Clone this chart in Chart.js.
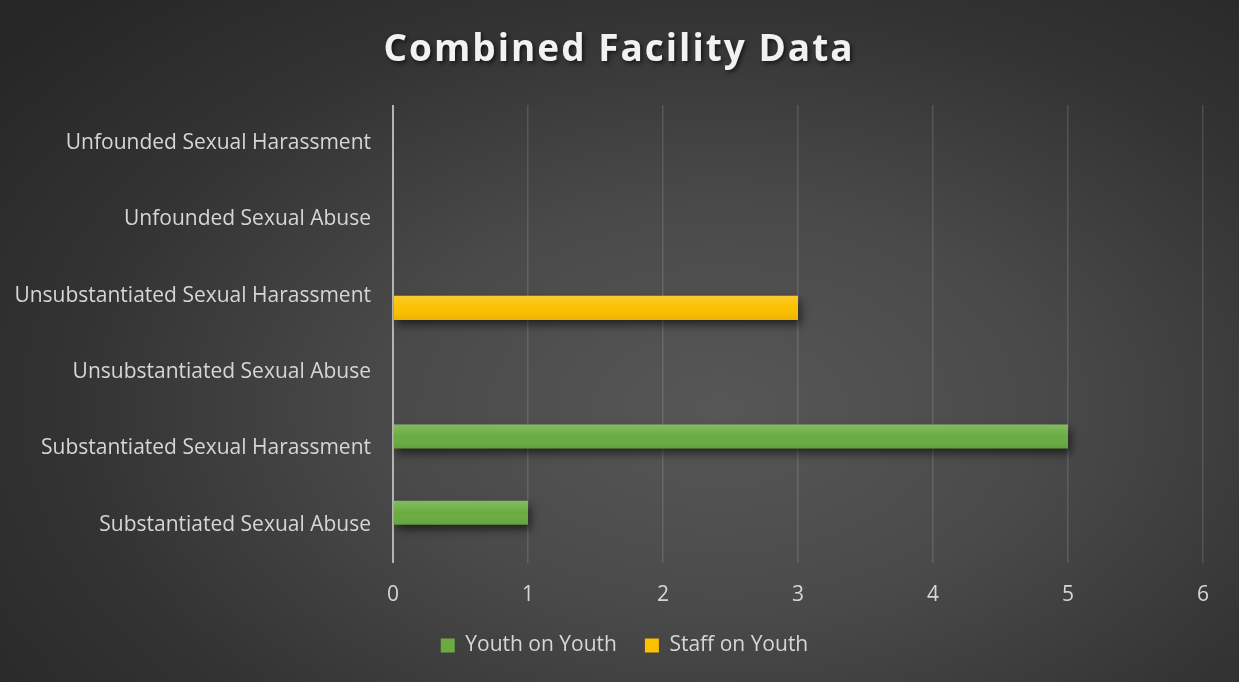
<!DOCTYPE html>
<html>
<head>
<meta charset="utf-8">
<script src="https://cdn.jsdelivr.net/npm/chart.js@4"></script>
<style>
  html, body { margin: 0; padding: 0; }
  body {
    width: 1239px;
    height: 682px;
    background: radial-gradient(ellipse 75% 85% at 58% 60%, #575757 0%, #4a4a4a 35%, #333 70%, #262626 100%);
    overflow: hidden;
  }
  #wrap { position: relative; width: 1239px; height: 682px; }
</style>
</head>
<body>
<div id="wrap"><canvas id="facilityChart" width="1239" height="682"></canvas></div>
<script>
// categories, listed top to bottom as in the picture
const categories = [
  "Unfounded Sexual Harassment",
  "Unfounded Sexual Abuse",
  "Unsubstantiated Sexual Harassment",
  "Unsubstantiated Sexual Abuse",
  "Substantiated Sexual Harassment",
  "Substantiated Sexual Abuse"
];
const youthOnYouth = [0, 0, 0, 0, 5, 1];
const staffOnYouth = [0, 0, 3, 0, 0, 0];
const xTicks = [0, 1, 2, 3, 4, 5, 6];

const titleText = "Combined Facility Data";
const labelColor = "#d6d6d6";
const FONT = '"Open Sans", "DejaVu Sans", sans-serif';

// title drawn by hand so it can get the soft shadow and letter spacing
const titlePlugin = {
  id: "bigTitle",
  afterDraw(chart) {
    const ctx = chart.ctx;
    ctx.save();
    ctx.font = "bold 37px " + FONT;
    if ("letterSpacing" in ctx) ctx.letterSpacing = "2px";
    ctx.textAlign = "center";
    ctx.textBaseline = "middle";
    ctx.shadowColor = "rgba(0,0,0,0.6)";
    ctx.shadowBlur = 4;
    ctx.shadowOffsetX = 2;
    ctx.shadowOffsetY = 2;
    ctx.fillStyle = "#f2f2f2";
    ctx.fillText(titleText, 619, 50);
    ctx.restore();
  }
};

// legend sits a bit right of the plot's centre in the original
const legendShift = {
  id: "legendShift",
  afterLayout(chart) {
    if (!chart.legend) return;
    chart.legend.left += 23;
    chart.legend.right += 23;
  }
};

// drop shadow under the bars
const barShadow = {
  id: "barShadow",
  beforeDatasetDraw(chart) {
    const ctx = chart.ctx;
    ctx.save();
    ctx.shadowColor = "rgba(0,0,0,0.55)";
    ctx.shadowBlur = 9;
    ctx.shadowOffsetX = 3;
    ctx.shadowOffsetY = 5;
  },
  afterDatasetDraw(chart) {
    chart.ctx.restore();
  }
};

// light-to-dark sheen on top of each bar
const barSheen = {
  id: "barSheen",
  afterDatasetsDraw(chart) {
    const ctx = chart.ctx;
    chart.data.datasets.forEach((ds, i) => {
      const meta = chart.getDatasetMeta(i);
      meta.data.forEach((bar) => {
        const p = bar.getProps(["x", "y", "base", "height"], true);
        if (Math.abs(p.x - p.base) < 1) return;
        const top = p.y - p.height / 2;
        const g = ctx.createLinearGradient(0, top, 0, top + p.height);
        g.addColorStop(0, "rgba(255,255,255,0.18)");
        g.addColorStop(0.5, "rgba(255,255,255,0)");
        g.addColorStop(1, "rgba(0,0,0,0.07)");
        ctx.save();
        ctx.fillStyle = g;
        ctx.fillRect(p.base, top, p.x - p.base, p.height);
        ctx.restore();
      });
    });
  }
};

const chart = new Chart(document.getElementById("facilityChart"), {
  type: "bar",
  data: {
    labels: categories,
    datasets: [
      {
        label: "Youth on Youth",
        data: youthOnYouth,
        backgroundColor: "#6aac41",
        categoryPercentage: 0.63,
        barPercentage: 1.0
      },
      {
        label: "Staff on Youth",
        data: staffOnYouth,
        backgroundColor: "#fcc000",
        categoryPercentage: 0.63,
        barPercentage: 1.0
      }
    ]
  },
  options: {
    indexAxis: "y",
    responsive: false,
    animation: false,
    layout: { padding: { top: 105, right: 36, bottom: 16, left: 0 } },
    plugins: {
      title: { display: false },
      tooltip: { enabled: false },
      legend: {
        position: "bottom",
        labels: {
          color: labelColor,
          font: { family: FONT, size: 21 },
          boxWidth: 14,
          boxHeight: 14,
          padding: 28,
          generateLabels(c) {
            return c.data.datasets.map((ds, i) => ({
              text: ds.label,
              fillStyle: ds.backgroundColor,
              strokeStyle: ds.backgroundColor,
              lineWidth: 0,
              fontColor: labelColor,
              datasetIndex: i
            }));
          }
        }
      }
    },
    scales: {
      x: {
        min: 0,
        max: 6,
        afterBuildTicks(scale) {
          scale.ticks = xTicks.map((v) => ({ value: v }));
        },
        afterFit(scale) { scale.height = 44; },
        grid: {
          drawTicks: false,
          color: (c) => (c.tick && c.tick.value === 0 ? "#b4b4b4" : "rgba(255,255,255,0.13)"),
          lineWidth: (c) => (c.tick && c.tick.value === 0 ? 2 : 1.5)
        },
        border: { display: false },
        ticks: {
          color: labelColor,
          font: { family: FONT, size: 21 },
          padding: 19
        }
      },
      y: {
        afterFit(scale) { scale.width = 393; },
        grid: { display: false, drawTicks: false },
        border: { display: false },
        ticks: {
          color: labelColor,
          font: { family: FONT, size: 21 },
          padding: 22
        }
      }
    }
  },
  plugins: [barShadow, barSheen, legendShift, titlePlugin]
});
</script>
</body>
</html>
